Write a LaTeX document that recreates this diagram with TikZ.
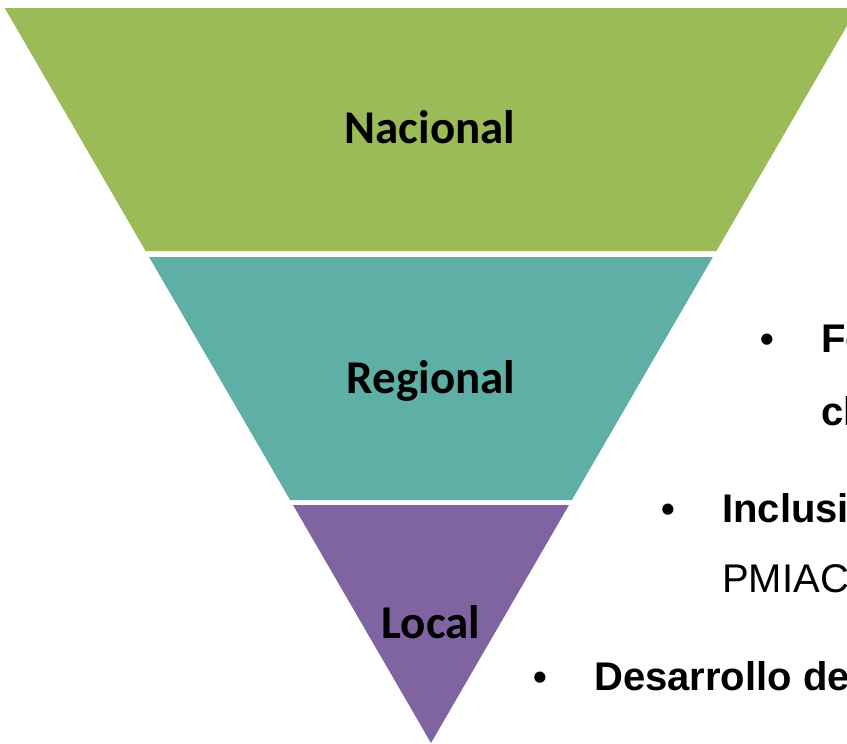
\documentclass[tikz,border=0pt]{standalone}
\usepackage{fontspec}
\setmainfont{Carlito}
\newfontfamily\arialf{Liberation Sans}
\definecolor{bandgreen}{HTML}{9BBB59}
\definecolor{bandteal}{HTML}{5EAFA6}
\definecolor{bandpurple}{HTML}{8064A2}
\tikzset{
  band/.style={draw=none},
  lvl/.style={anchor=base, font=\fontsize{47}{51}\selectfont\bfseries, text=black, inner sep=0pt},
  bul/.style={anchor=base west, font=\arialf\fontsize{39}{43}\selectfont\bfseries, inner sep=0pt},
  btxt/.style={anchor=base west, font=\arialf\fontsize{40}{44}\selectfont\bfseries, inner sep=0pt},
  rtxt/.style={anchor=base west, font=\arialf\fontsize{40}{44}\selectfont, inner sep=0pt}
}
\begin{document}
\begin{tikzpicture}[x=1pt,y=-1pt]
\useasboundingbox (0,0) rectangle (847,744);
\clip (0,0) rectangle (847,744);
\fill[band, bandgreen] (4.7,8) -- (857.3,8) -- (716.4,251) -- (145.6,251) -- cycle;
\fill[band, bandteal] (149.1,257) -- (712.9,257) -- (571.9,500) -- (290.1,500) -- cycle;
\fill[band, bandpurple] (293,505) -- (569,505) -- (431,743) -- cycle;
\node[lvl] (nac) at (430,143) {Nacional};
\node[lvl] (reg) at (431,393) {Regional};
\node[lvl] (loc) at (431,638) {Local};
\node[bul] (b1) at (760,352) {•};
\node[btxt] (t1) at (821,352) {Fo};
\node[btxt] (t1b) at (821,425) {cl};
\node[bul] (b2) at (661,522) {•};
\node[btxt] (t2) at (722,522) {Inclusi};
\node[rtxt] (t2b) at (722,592) {PMIAC};
\node[bul] (b3) at (533,690) {•};
\node[btxt] (t3) at (594,690) {Desarrollo de};
\end{tikzpicture}
\end{document}
